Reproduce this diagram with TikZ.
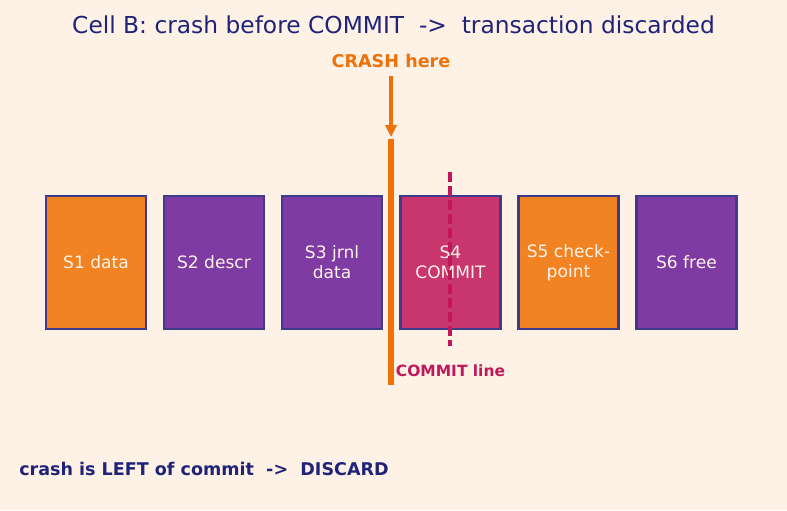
\documentclass[tikz,border=0pt]{standalone}
\usepackage{fontspec}
\setmainfont{DejaVu Sans}
\usetikzlibrary{arrows.meta}
\definecolor{bg}{HTML}{FEF1E6}
\definecolor{navy}{HTML}{1F2478}
\definecolor{edge}{HTML}{3F3A8A}
\definecolor{orng}{HTML}{F28322}
\definecolor{purp}{HTML}{7D3BA3}
\definecolor{pinkc}{HTML}{C9366E}
\definecolor{crash}{HTML}{EE7209}
\definecolor{cline}{HTML}{C2185B}
\definecolor{boxtxt}{HTML}{FFF3EA}
\begin{document}
\begin{tikzpicture}[x=0.75pt,y=-0.75pt,
  stepbox/.style={draw=edge,line width=2.2pt,minimum width=100*0.75pt,minimum height=133*0.75pt,
    inner sep=0pt,text=boxtxt,align=center,font=\fontsize{12.8}{15}\selectfont},
  lbl/.style={inner sep=0pt}]
\fill[bg] (0,0) rectangle (787,510);
\useasboundingbox (0,0) rectangle (787,510);
\node[lbl,text=navy,font=\fontsize{17.5}{21}\selectfont] (title) at (393.5,25) {Cell B: crash before COMMIT\ \ ->\ \ transaction discarded};
\node[stepbox,fill=orng] (s1) at (96,262.5) {S1 data};
\node[stepbox,fill=purp] (s2) at (214,262.5) {S2 descr};
\node[stepbox,fill=purp] (s3) at (332,262.5) {S3 jrnl\\data};
\node[stepbox,fill=pinkc] (s4) at (450.5,262.5) {S4\\COMMIT};
\node[stepbox,fill=orng] (s5) at (568.5,262.5) {S5 check-\\point};
\node[stepbox,fill=purp] (s6) at (686.5,262.5) {S6 free};
\node[lbl,text=crash,font=\bfseries\fontsize{13.2}{15}\selectfont] (crashlbl) at (391,61) {CRASH here};
\coordinate (a1) at (391,76);
\coordinate (a2) at (391,137);
\coordinate (l1) at (391,139);
\coordinate (l2) at (391,385);
\draw[crash,line width=2.4pt,-{Triangle[length=9pt,width=8.5pt]}] (a1) -- (a2);
\draw[crash,line width=3.8pt] (l1) -- (l2);
\coordinate (c1) at (450,172);
\coordinate (c2) at (450,346);
\draw[cline,line width=2.5pt,dash pattern=on 7.5pt off 3pt] (c1) -- (c2);
\node[lbl,text=cline,font=\bfseries\fontsize{11.6}{13}\selectfont] (commitlbl) at (450.5,371) {COMMIT line};
\node[lbl,anchor=west,text=navy,font=\bfseries\fontsize{13.15}{15}\selectfont] (foot) at (19,468.5) {crash is LEFT of commit\ \ ->\ \ DISCARD};
\end{tikzpicture}
\end{document}
